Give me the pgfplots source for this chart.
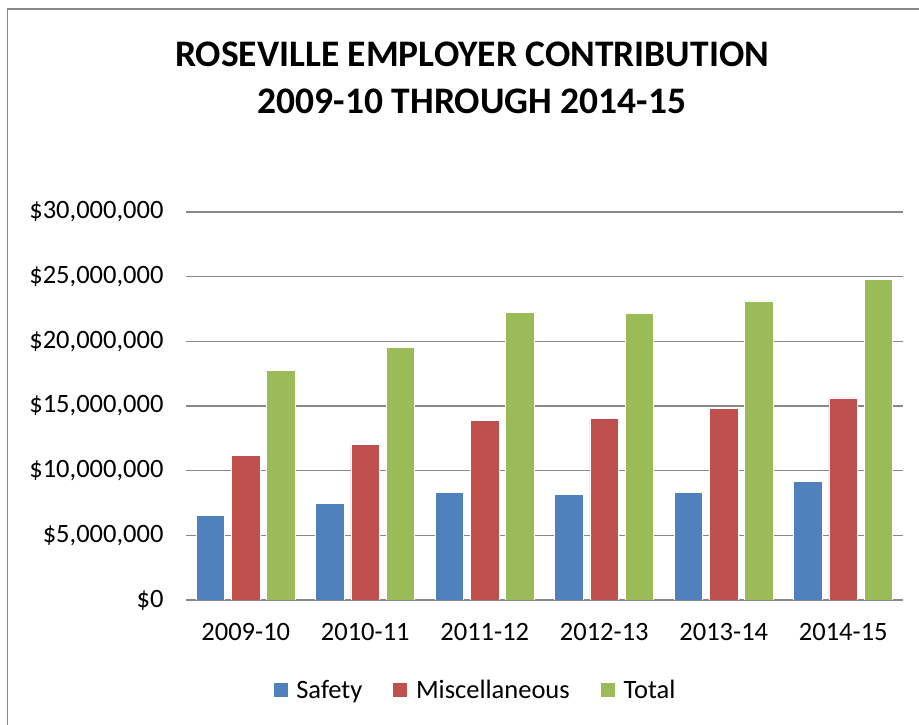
\documentclass[border=0pt]{standalone}
\usepackage{pgfplots}
\pgfplotsset{compat=1.18}
\usepackage{fontspec}
\setmainfont{Carlito}
\definecolor{cBlue}{HTML}{4F81BD}
\definecolor{cRed}{HTML}{C0504D}
\definecolor{cGreen}{HTML}{9BBB59}
\definecolor{cGrid}{HTML}{888888}
\begin{document}
\begin{tikzpicture}[x=1bp,y=1bp]
\useasboundingbox (0,0) rectangle (919,725);
\draw[cGrid, line width=1.8bp] (7.5,0) -- (7.5,716) -- (919,716);
\node[anchor=base, font=\fontsize{37.5bp}{44bp}\selectfont\bfseries] at (472,658) {ROSEVILLE EMPLOYER CONTRIBUTION};
\node[anchor=base, font=\fontsize{37.5bp}{44bp}\selectfont\bfseries] at (472,611) {2009-10 THROUGH 2014-15};
\begin{axis}[
  at={(186bp,125bp)}, anchor=south west,
  scale only axis, width=717bp, height=388bp,
  ybar, ymin=0, ymax=30000000, xmin=-0.5, xmax=5.5,
  xtick={0,1,2,3,4,5},
  xticklabels={2009-10,2010-11,2011-12,2012-13,2013-14,2014-15},
  ytick={0,5000000,10000000,15000000,20000000,25000000,30000000},
  yticklabels={{\$0},{\$5,000,000},{\$10,000,000},{\$15,000,000},{\$20,000,000},{\$25,000,000},{\$30,000,000}},
  scaled y ticks=false,
  axis x line*=bottom, axis y line*=left,
  y axis line style={draw=none},
  x axis line style={cGrid, line width=1.5bp},
  major tick length=0pt,
  ymajorgrids, major grid style={cGrid, line width=1.5bp},
  ticklabel style={font=\fontsize{26.5bp}{31bp}\selectfont, text=black},
  yticklabel style={xshift=-19bp},
  xticklabel style={yshift=-20bp},
  legend style={at={(0.403,-0.232)}, anchor=center, draw=none, fill=none,
    font=\fontsize{26.5bp}{31bp}\selectfont, legend columns=-1,
    /tikz/every even column/.append style={column sep=28bp}},
  legend image code/.code={\fill[#1] (0bp,-7.5bp) rectangle (15bp,7.5bp); \path (21bp,0bp);},
  bar width=0.24,
]
\addplot[fill=cBlue, draw=white, line width=0.75bp, bar shift=-0.295] coordinates {(0,6570000) (1,7470000) (2,8350000) (3,8140000) (4,8320000) (5,9150000)};
\addplot[fill=cRed, draw=white, line width=0.75bp, bar shift=0] coordinates {(0,11210000) (1,12060000) (2,13870000) (3,14020000) (4,14790000) (5,15620000)};
\addplot[fill=cGreen, draw=white, line width=0.75bp, bar shift=0.295] coordinates {(0,17730000) (1,19560000) (2,22220000) (3,22160000) (4,23120000) (5,24790000)};
\legend{Safety,Miscellaneous,Total}
\end{axis}
\end{tikzpicture}
\end{document}
